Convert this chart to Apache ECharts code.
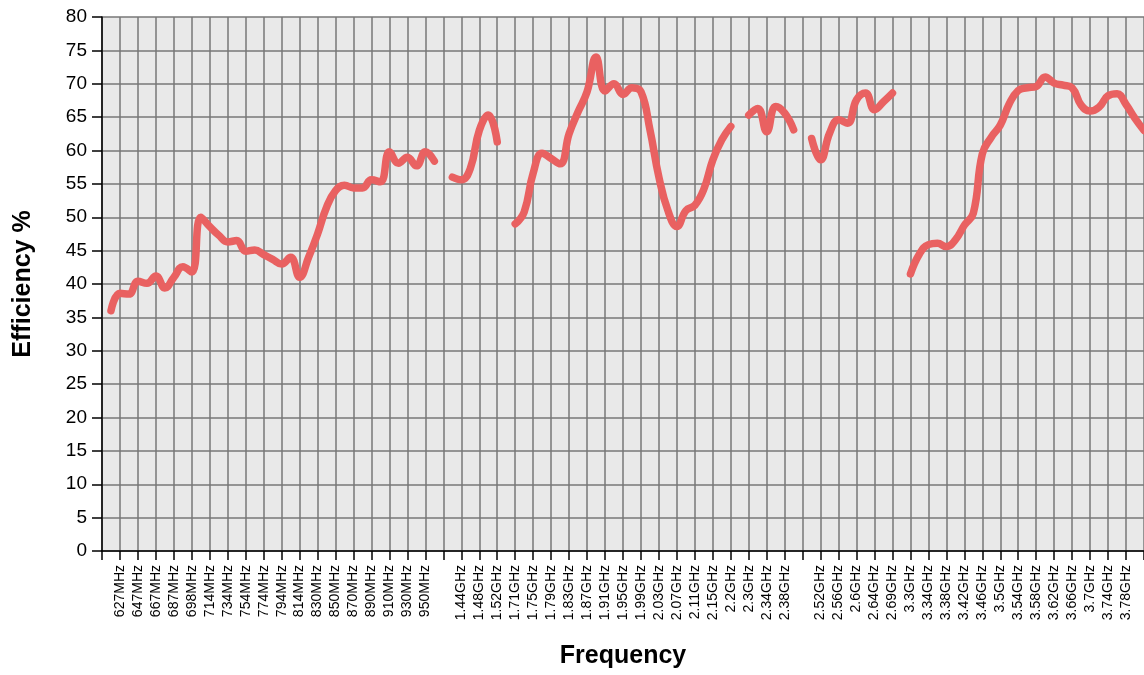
<!DOCTYPE html>
<html>
<head>
<meta charset="utf-8">
<title>Efficiency vs Frequency</title>
<script src="https://cdn.jsdelivr.net/npm/echarts@6/dist/echarts.min.js"></script>
<style>
  html, body { margin: 0; padding: 0; background: #fff; }
  #chart { width: 1144px; height: 675px; }
</style>
</head>
<body>
<div id="chart"></div>
<script>
// labelled ticks (every other category), '' = unlabelled tick
const tickLabels = [
  '', '627MHz', '647MHz', '667MHz', '687MHz', '698MHz', '714MHz', '734MHz', '754MHz',
  '774MHz', '794MHz', '814MHz', '830MHz', '850MHz', '870MHz', '890MHz', '910MHz',
  '930MHz', '950MHz', '', '1.44GHz', '1.48GHz', '1.52GHz', '1.71GHz', '1.75GHz',
  '1.79GHz', '1.83GHz', '1.87GHz', '1.91GHz', '1.95GHz', '1.99GHz', '2.03GHz',
  '2.07GHz', '2.11GHz', '2.15GHz', '2.2GHz', '2.3GHz', '2.34GHz', '2.38GHz', '',
  '2.52GHz', '2.56GHz', '2.6GHz', '2.64GHz', '2.69GHz', '3.3GHz', '3.34GHz',
  '3.38GHz', '3.42GHz', '3.46GHz', '3.5GHz', '3.54GHz', '3.58GHz', '3.62GHz',
  '3.66GHz', '3.7GHz', '3.74GHz', '3.78GHz', ''
];

// efficiency (%) per band, one value per category, bands separated by a gap
const band1 = [36.0, 38.6, 38.5, 40.4, 40.1, 41.2, 39.4, 41.0, 42.6, 41.8, 50.0, 48.6,
  47.3, 46.3, 46.5, 44.9, 45.1, 44.4, 43.7, 43.0, 44.0, 41.0, 44.0, 47.5, 51.5, 54.0,
  54.8, 54.4, 54.4, 55.6, 55.3, 59.8, 58.1, 59.0, 57.7, 59.8, 58.4];
const band2 = [56.0, 55.6, 57.3, 63.0, 65.3, 61.3];
const band3 = [49.0, 50.8, 56.6, 59.6, 58.8, 58.0, 62.5, 65.8, 68.8, 74.0, 68.9, 70.0,
  68.4, 69.4, 68.8, 63.1, 56.0, 51.0, 48.6, 51.0, 51.8, 54.2, 58.6, 61.6, 63.6];
const band4 = [65.3, 66.3, 62.8, 66.6, 65.6, 63.1];
const band5 = [61.8, 58.6, 62.6, 64.6, 64.1, 67.6, 68.6, 66.1, 67.3, 68.6];
const band6 = [41.5, 44.5, 45.9, 46.1, 45.6, 46.6, 48.8, 50.6, 59.5, 62.0, 63.8, 67.0,
  69.0, 69.4, 69.6, 71.0, 70.1, 69.8, 69.4, 66.8, 65.9, 66.5, 68.2, 68.5, 66.9, 64.8, 63.0];

const yTicks = { min: 0, max: 80, interval: 5 };

// categories: each labelled tick followed by an unlabelled in-between point
const categories = [];
tickLabels.forEach((t, i) => {
  categories.push(t);
  if (i < tickLabels.length - 1) categories.push('');
});

const efficiency = [null].concat(band1, [null], band2, [null], band3, [null],
  band4, [null], band5, [null], band6);

const chart = echarts.init(document.getElementById('chart'));
const font = "Arial, 'Liberation Sans', sans-serif";

chart.setOption({
  animation: false,
  grid: {
    left: 102,
    right: -9,
    top: 17,
    bottom: 124,
    show: true,
    backgroundColor: '#e9e9e9',
    borderWidth: 0
  },
  xAxis: {
    type: 'category',
    data: categories,
    boundaryGap: false,
    name: 'Frequency',
    nameLocation: 'middle',
    nameGap: 93,
    nameTextStyle: { fontSize: 25, fontWeight: 'bold', color: '#000', fontFamily: font },
    axisLine: { lineStyle: { color: '#000', width: 1.5 } },
    axisTick: { interval: 1, length: 9, lineStyle: { color: '#000', width: 1.5 } },
    axisLabel: {
      interval: 1,
      rotate: 90,
      margin: 14,
      fontSize: 14,
      color: '#000',
      fontFamily: font
    },
    splitLine: { show: true, interval: 1, lineStyle: { color: '#777', width: 1.5 } }
  },
  yAxis: {
    type: 'value',
    min: yTicks.min,
    max: yTicks.max,
    interval: yTicks.interval,
    name: 'Efficiency %',
    nameLocation: 'middle',
    nameGap: 66,
    nameTextStyle: { fontSize: 25, fontWeight: 'bold', color: '#000', fontFamily: font },
    axisLine: { show: true, lineStyle: { color: '#000', width: 1.5 } },
    axisTick: { show: true, length: 10, lineStyle: { color: '#000', width: 1.5 } },
    axisLabel: { margin: 15, fontSize: 19, color: '#000', fontFamily: font },
    splitLine: { show: true, lineStyle: { color: '#777', width: 1.5 } }
  },
  series: [
    {
      type: 'line',
      data: efficiency,
      smooth: 0.45,
      connectNulls: false,
      showSymbol: false,
      symbol: 'none',
      lineStyle: { color: '#e96161', width: 7.5, cap: 'round', join: 'round' }
    }
  ]
});
</script>
</body>
</html>
